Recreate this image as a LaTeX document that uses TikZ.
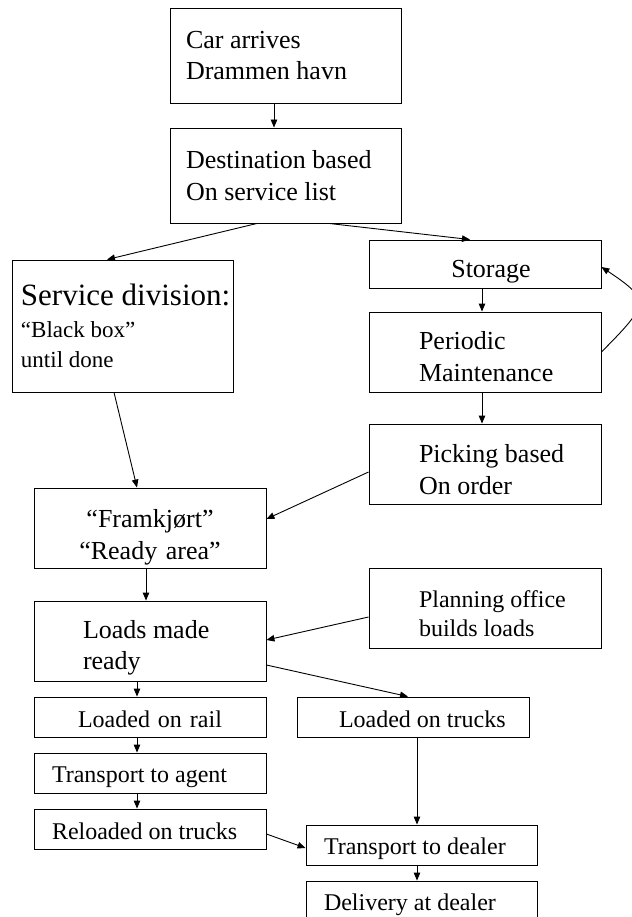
\documentclass[tikz,border=0pt]{standalone}
\usepackage{fontspec}
\setmainfont{Liberation Serif}
\usetikzlibrary{arrows.meta}

% box text: width, left padding, lines
\newcommand\boxlines[3]{\parbox{#1}{\leftskip=#2\relax #3}}
% invisible strut that lowers the text block in its box
\newcommand\drop[1]{\rule{0pt}{#1}}

\tikzset{
  box/.style={draw, line width=0.9pt, inner sep=0pt,
    font=\fontsize{26}{31.5}\selectfont},
  boxc/.style={box, align=center},
  small/.style={font=\fontsize{24}{29}\selectfont},
  flow/.style={line width=0.9pt, -{Triangle[length=8pt,width=6.5pt]}},
}

\begin{document}
\begin{tikzpicture}[x=1pt,y=-1pt]
\useasboundingbox (0,0) rectangle (631,917);

% main column
\node[box, minimum height=95pt] (car) at (285.5,55.5)
  {\boxlines{231pt}{16pt}{Car arrives\\Drammen havn}};
\node[box, minimum height=95pt] (dest) at (285.5,175.5)
  {\boxlines{231pt}{16pt}{Destination based\\On service list}};

% service branch
\node[box, minimum height=132pt, font=\fontsize{23}{30}\selectfont] (serv) at (122.5,326)
  {\boxlines{221pt}{9pt}{{\fontsize{31}{33}\selectfont Service division:}\\[2pt]“Black box”\\until done}};

% storage branch
\node[boxc, text width=232pt, minimum height=48pt] (sto) at (485,264) {\drop{32pt}\hspace*{12pt}Storage};
\node[box, minimum height=80pt] (per) at (485,352)
  {\boxlines{232pt}{50pt}{\drop{27pt}Periodic\\Maintenance}};
\node[box, minimum height=80pt] (pick) at (485,464)
  {\boxlines{232pt}{50pt}{\drop{29pt}Picking based\\On order}};

% ready area and loading
\node[boxc, text width=232pt, minimum height=80pt] (fram) at (150,528)
  {\drop{37pt}“Framkjørt”\\“Ready area”};
\node[box, minimum height=80pt] (loads) at (150,641)
  {\boxlines{232pt}{49pt}{\drop{32pt}Loads made\\ready}};
\node[box, small, minimum height=80pt] (plan) at (485,608)
  {\boxlines{232pt}{50pt}{\drop{28.5pt}Planning office\\builds loads}};

% rail route
\node[boxc, small, text width=232pt, minimum height=40pt] (rail) at (150,717)
  {\drop{21pt}Loaded on rail};
\node[box, small, minimum height=40pt] (agent) at (150,773)
  {\boxlines{232pt}{18pt}{\drop{25pt}Transport to agent}};
\node[box, small, minimum height=40pt] (reload) at (150,829)
  {\boxlines{232pt}{18pt}{\drop{21pt}Reloaded on trucks}};

% truck route
\node[box, small, minimum height=40pt] (trucks) at (413,717)
  {\boxlines{232pt}{42pt}{\drop{21pt}Loaded on trucks}};
\node[box, small, minimum height=40pt] (tdeal) at (421.5,845)
  {\boxlines{231pt}{18pt}{\drop{25pt}Transport to dealer}};
\node[box, small, minimum height=40pt] (deliv) at (421.5,901)
  {\boxlines{231pt}{18pt}{\drop{25pt}Delivery at dealer}};

% connectors
\draw[flow] ([xshift=-11.5pt]car.south) -- ([xshift=-11.5pt]dest.north);
\draw[flow] ([xshift=-28.5pt]dest.south) -- ([xshift=-15.5pt]serv.north);
\draw[flow] ([xshift=43.5pt]dest.south) -- ([xshift=-15pt]sto.north);
\draw[flow] ([xshift=-3pt]sto.south) -- ([xshift=-3pt]per.north);
\draw[flow] (per.east) .. controls (649,304) and (651,300) .. ([yshift=-3pt]sto.east);
\draw[flow] ([xshift=-3pt]per.south) -- ([xshift=-3pt]pick.north);
\draw[flow] ([yshift=-8pt]pick.west) -- ([yshift=9pt]fram.east);
\draw[flow] ([xshift=-8.5pt]serv.south) -- ([xshift=-13pt]fram.north);
\draw[flow] ([xshift=-4pt]fram.south) -- ([xshift=-4pt]loads.north);
\draw[flow] ([yshift=-9pt]plan.west) -- ([yshift=1pt]loads.east);
\draw[flow] ([yshift=-24pt]loads.east) -- ([xshift=-5pt]trucks.north);
\draw[flow] ([xshift=-13pt]loads.south) -- ([xshift=-13pt]rail.north);
\draw[flow] ([xshift=-13pt]rail.south) -- ([xshift=-13pt]agent.north);
\draw[flow] ([xshift=-13pt]agent.south) -- ([xshift=-13pt]reload.north);
\draw[flow] ([xshift=4pt]trucks.south) -- ([xshift=-4.5pt]tdeal.north);
\draw[flow] ([yshift=-5pt]reload.east) -- ([yshift=-3pt]tdeal.west);
\draw[flow] ([xshift=-4.5pt]tdeal.south) -- ([xshift=-4.5pt]deliv.north);
\end{tikzpicture}
\end{document}
